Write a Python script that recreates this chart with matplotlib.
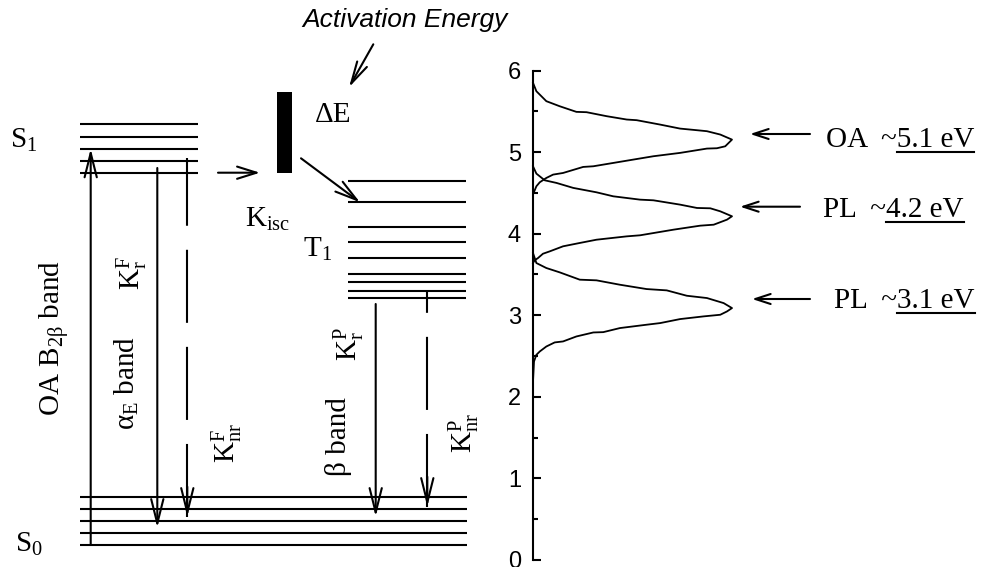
import matplotlib
matplotlib.use('Agg')
import matplotlib.pyplot as plt

plt.rcParams['font.family'] = 'Liberation Serif'
plt.rcParams['mathtext.fontset'] = 'custom'
plt.rcParams['mathtext.rm'] = 'Liberation Serif'
plt.rcParams['mathtext.it'] = 'Liberation Serif:italic'
plt.rcParams['lines.scale_dashes'] = False

# Level diagram, drawn in figure pixels (y grows downward)
s1_levels = [124.3, 136.7, 148.7, 160.7, 172.7]
t1_levels = [180.7, 202.3, 226.7, 242.3, 258.3, 274.3, 282.3, 290.7, 298.3]
s0_levels = [496.7, 508.7, 520.7, 532.7, 545.0]
s1_span = (80, 198)
t1_span = (348, 466)
s0_span = (80, 467)

# transitions: x, start, end, dashed
transitions = [
    (90.7, 545.0, 148.7, False),   # OA absorption
    (157.3, 168.0, 527.7, False),  # K_r^F
    (187.3, 158.0, 516.7, True),   # K_nr^F
    (375.7, 304.0, 516.7, False),  # K_r^P
    (427.3, 290.7, 506.7, True),   # K_nr^P
]

barrier_x = 284.5
barrier_top = 92.3
barrier_bottom = 172.7

# Spectra: intensity (normalised) vs energy (eV)
oa_int = [0.000, 0.017, 0.067, 0.134, 0.218, 0.269, 0.370, 0.471, 0.521, 0.639,
          0.739, 0.824, 0.874, 0.941, 1.000, 0.966, 0.924, 0.874, 0.739, 0.605,
          0.504, 0.303, 0.252, 0.151, 0.101, 0.067, 0.034, 0.017, 0.003]
oa_ev = [5.849, 5.746, 5.624, 5.562, 5.493, 5.489, 5.440, 5.399, 5.391, 5.337,
         5.288, 5.268, 5.256, 5.215, 5.153, 5.071, 5.047, 5.043, 4.990, 4.949,
         4.908, 4.826, 4.818, 4.744, 4.724, 4.683, 4.630, 4.581, 4.499]
pl42_int = [0.000, 0.017, 0.059, 0.118, 0.202, 0.319, 0.403, 0.538, 0.605, 0.739,
            0.824, 0.891, 0.941, 1.000, 0.975, 0.908, 0.840, 0.706, 0.538, 0.471,
            0.319, 0.235, 0.151, 0.084, 0.050, 0.025, 0.008, 0.000]
pl42_ev = [4.826, 4.736, 4.654, 4.622, 4.561, 4.507, 4.458, 4.417, 4.409, 4.356,
           4.315, 4.311, 4.274, 4.213, 4.172, 4.110, 4.098, 4.049, 3.980, 3.967,
           3.926, 3.886, 3.845, 3.783, 3.754, 3.701, 3.673, 3.640]
pl31_int = [0.000, 0.017, 0.067, 0.134, 0.235, 0.319, 0.437, 0.571, 0.672, 0.773,
            0.874, 0.958, 1.000, 0.975, 0.941, 0.857, 0.739, 0.639, 0.571, 0.437,
            0.353, 0.303, 0.218, 0.151, 0.109, 0.067, 0.034, 0.017, 0.005, 0.000]
pl31_ev = [3.763, 3.640, 3.579, 3.526, 3.436, 3.428, 3.374, 3.321, 3.305, 3.239,
           3.211, 3.149, 3.088, 3.047, 3.006, 2.986, 2.953, 2.904, 2.884, 2.843,
           2.793, 2.789, 2.740, 2.679, 2.667, 2.617, 2.556, 2.515, 2.433, 2.188]

band_names = ['OA  ~', 'PL  ~', 'PL  ~']
band_values = ['5.1 eV', '4.2 eV', '3.1 eV']

LW = 1.5
FS = 21


def arrow(ax, start, end, hl=17.5, hw=4.4):
    ax.annotate('', xy=end, xytext=start,
                arrowprops=dict(arrowstyle=f'->,head_length={hl},head_width={hw}',
                                lw=LW, color='k', shrinkA=0, shrinkB=0,
                                mutation_scale=1))


fig = plt.figure(figsize=(9.81, 5.67), dpi=100)
ax0 = fig.add_axes([0, 0, 1, 1])
ax0.set_xlim(0, 981)
ax0.set_ylim(567, 0)
ax0.axis('off')

for levels, span in [(s1_levels, s1_span), (t1_levels, t1_span), (s0_levels, s0_span)]:
    ax0.hlines(levels, span[0], span[1], color='k', lw=LW)

for x, y0, y1, dashed in transitions:
    if dashed:
        ax0.plot([x, x], [y1, y0], color='k', lw=LW, ls=(0, (52.6, 17.3)))
        arrow(ax0, (x, y1 - 30), (x, y1))
    else:
        arrow(ax0, (x, y0), (x, y1))

# intersystem crossing
arrow(ax0, (218, s1_levels[-1]), (260, s1_levels[-1]), hl=14, hw=4.4)
ax0.bar(barrier_x, barrier_bottom - barrier_top, bottom=barrier_top, width=15.6,
        color='k')
arrow(ax0, (301, 158.3), (360, t1_levels[1]), hl=16, hw=4.4)
arrow(ax0, (373.3, 44.3), (349, 87.3), hl=16, hw=4)

ax0.text(302, 27, 'Activation Energy', family='Liberation Sans', style='italic',
         fontsize=19, va='baseline')
ax0.text(315, 121.7, 'ΔE', fontsize=FS, va='baseline')
ax0.text(10, 148, r'$\mathrm{S_1}$', fontsize=FS, va='baseline')
ax0.text(15, 551.7, r'$\mathrm{S_0}$', fontsize=FS, va='baseline')
ax0.text(303, 256.7, r'$\mathrm{T_1}$', fontsize=FS, va='baseline')
ax0.text(245, 227, r'$\mathrm{K_{isc}}$', fontsize=FS, va='baseline')

rot_labels = [
    (54, 338, r'OA $\mathrm{B_{2β}}$ band'),
    (126.5, 382.5, r'$\mathrm{α_E}$ band'),
    (132, 273, r'$\mathrm{K_r^F}$'),
    (227, 443, r'$\mathrm{K_{nr}^F}$'),
    (338, 437, 'β band'),
    (349, 344, r'$\mathrm{K_r^P}$'),
    (464, 433, r'$\mathrm{K_{nr}^P}$'),
]
for x, y, s in rot_labels:
    ax0.text(x, y, s, fontsize=FS, rotation=90, ha='center', va='center')

# spectrum panel
ax = fig.add_axes([533 / 981, 7 / 567, 199 / 981, 489.5 / 567])
ax.patch.set_alpha(0)
for xs, ys in [(oa_int, oa_ev), (pl42_int, pl42_ev), (pl31_int, pl31_ev)]:
    ax.plot(xs, ys, color='k', lw=1.3, clip_on=False)
ax.set_xlim(0, 1)
ax.set_ylim(0, 6)
for side in ['top', 'right', 'bottom']:
    ax.spines[side].set_visible(False)
ax.spines['left'].set_linewidth(LW)
ax.set_xticks([])
ax.set_yticks(range(7))
ax.set_yticks([0.5, 1.5, 2.5, 3.5, 4.5, 5.5], minor=True)
ax.tick_params(axis='y', which='major', direction='in', length=6, width=LW,
               labelsize=17, pad=8.6)
ax.tick_params(axis='y', which='minor', direction='in', length=3.6, width=LW)
for lab in ax.get_yticklabels():
    lab.set_family('Liberation Sans')

# peak annotations, with the energy underlined
arrow_y = [134, 206.7, 299]
arrow_x = [(810, 750), (800, 740), (810, 752)]
text_x = [826, 823, 834]
text_y = [147.3, 216.7, 308]
fig.canvas.draw()
renderer = fig.canvas.get_renderer()
inv = ax0.transData.inverted()
for name, val, ay, (xa, xb), tx, ty in zip(band_names, band_values, arrow_y,
                                           arrow_x, text_x, text_y):
    arrow(ax0, (xa, ay), (xb, ay), hl=11, hw=3.6)
    full = ax0.text(tx, ty, name + val, fontsize=FS, va='baseline')
    part = ax0.text(tx, ty, val, fontsize=FS, va='baseline')
    bb_full = full.get_window_extent(renderer)
    bb_part = part.get_window_extent(renderer)
    part.remove()
    x1 = inv.transform((bb_full.x1, 0))[0]
    x0 = x1 - bb_part.width
    ax0.plot([x0, x1], [ty + 5, ty + 5], color='k', lw=LW)

fig.savefig('out.png', dpi=100)
